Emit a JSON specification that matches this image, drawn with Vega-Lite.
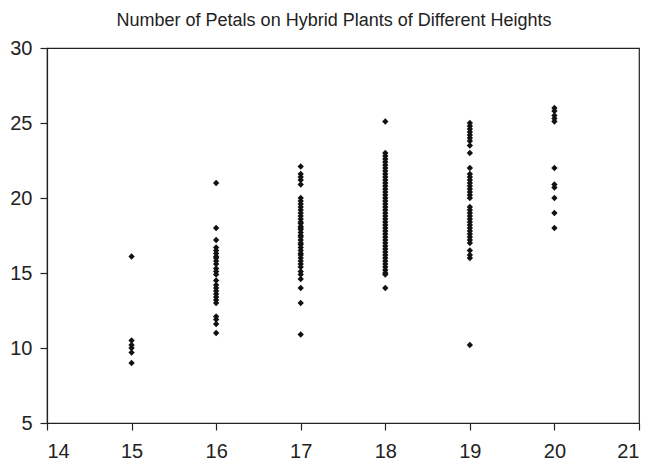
{
  "$schema": "https://vega.github.io/schema/vega-lite/v6.json",
  "autosize": {"type": "none"},
  "width": 592,
  "height": 375,
  "padding": {"left": 47, "top": 48, "right": 11, "bottom": 38},
  "background": "white",
  "config": {
    "font": "Liberation Sans",
    "view": {"stroke": "#222", "strokeWidth": 1.2},
    "axis": {
      "grid": false,
      "domainColor": "#222",
      "domainWidth": 1.2,
      "tickColor": "#222",
      "tickSize": 7,
      "tickWidth": 1.2,
      "labelColor": "#222",
      "labelFont": "Liberation Sans",
      "labelFontSize": 20,
      "title": null
    }
  },
  "title": {
    "text": "Number of Petals on Hybrid Plants of Different Heights",
    "font": "Liberation Sans",
    "fontSize": 18,
    "fontWeight": "normal",
    "color": "#222",
    "anchor": "middle",
    "dx": -9,
    "offset": 8
  },
  "data": {
    "values": [
      {"height": 15, "petals": 16.1}, {"height": 15, "petals": 10.5}, {"height": 15, "petals": 10.2}, {"height": 15, "petals": 10.0}, {"height": 15, "petals": 9.7}, {"height": 15, "petals": 9.0},
      {"height": 16, "petals": 21.0}, {"height": 16, "petals": 18.0}, {"height": 16, "petals": 17.2}, {"height": 16, "petals": 16.7}, {"height": 16, "petals": 16.5}, {"height": 16, "petals": 16.3}, {"height": 16, "petals": 16.1}, {"height": 16, "petals": 16.0}, {"height": 16, "petals": 15.8}, {"height": 16, "petals": 15.6}, {"height": 16, "petals": 15.3}, {"height": 16, "petals": 15.1}, {"height": 16, "petals": 14.9}, {"height": 16, "petals": 14.5}, {"height": 16, "petals": 14.2}, {"height": 16, "petals": 14.0}, {"height": 16, "petals": 13.8}, {"height": 16, "petals": 13.6}, {"height": 16, "petals": 13.4}, {"height": 16, "petals": 13.2}, {"height": 16, "petals": 13.0}, {"height": 16, "petals": 12.1}, {"height": 16, "petals": 11.9}, {"height": 16, "petals": 11.6}, {"height": 16, "petals": 11.0},
      {"height": 17, "petals": 22.1}, {"height": 17, "petals": 21.6}, {"height": 17, "petals": 21.4}, {"height": 17, "petals": 21.2}, {"height": 17, "petals": 20.9}, {"height": 17, "petals": 20.0}, {"height": 17, "petals": 19.8}, {"height": 17, "petals": 19.6}, {"height": 17, "petals": 19.4}, {"height": 17, "petals": 19.2}, {"height": 17, "petals": 19.0}, {"height": 17, "petals": 18.8}, {"height": 17, "petals": 18.6}, {"height": 17, "petals": 18.4}, {"height": 17, "petals": 18.3}, {"height": 17, "petals": 18.1}, {"height": 17, "petals": 18.0}, {"height": 17, "petals": 17.9}, {"height": 17, "petals": 17.7}, {"height": 17, "petals": 17.5}, {"height": 17, "petals": 17.4}, {"height": 17, "petals": 17.2}, {"height": 17, "petals": 17.0}, {"height": 17, "petals": 16.9}, {"height": 17, "petals": 16.7}, {"height": 17, "petals": 16.5}, {"height": 17, "petals": 16.3}, {"height": 17, "petals": 16.2}, {"height": 17, "petals": 16.0}, {"height": 17, "petals": 15.8}, {"height": 17, "petals": 15.6}, {"height": 17, "petals": 15.4}, {"height": 17, "petals": 15.1}, {"height": 17, "petals": 14.9}, {"height": 17, "petals": 14.6}, {"height": 17, "petals": 14.0}, {"height": 17, "petals": 13.0}, {"height": 17, "petals": 10.9},
      {"height": 18, "petals": 25.1}, {"height": 18, "petals": 23.0}, {"height": 18, "petals": 22.8}, {"height": 18, "petals": 22.6}, {"height": 18, "petals": 22.4}, {"height": 18, "petals": 22.2}, {"height": 18, "petals": 22.0}, {"height": 18, "petals": 21.8}, {"height": 18, "petals": 21.6}, {"height": 18, "petals": 21.4}, {"height": 18, "petals": 21.2}, {"height": 18, "petals": 21.0}, {"height": 18, "petals": 20.8}, {"height": 18, "petals": 20.6}, {"height": 18, "petals": 20.4}, {"height": 18, "petals": 20.2}, {"height": 18, "petals": 20.0}, {"height": 18, "petals": 19.8}, {"height": 18, "petals": 19.6}, {"height": 18, "petals": 19.4}, {"height": 18, "petals": 19.2}, {"height": 18, "petals": 19.0}, {"height": 18, "petals": 18.8}, {"height": 18, "petals": 18.6}, {"height": 18, "petals": 18.4}, {"height": 18, "petals": 18.2}, {"height": 18, "petals": 18.0}, {"height": 18, "petals": 17.8}, {"height": 18, "petals": 17.6}, {"height": 18, "petals": 17.4}, {"height": 18, "petals": 17.2}, {"height": 18, "petals": 17.0}, {"height": 18, "petals": 16.8}, {"height": 18, "petals": 16.6}, {"height": 18, "petals": 16.4}, {"height": 18, "petals": 16.2}, {"height": 18, "petals": 16.0}, {"height": 18, "petals": 15.8}, {"height": 18, "petals": 15.6}, {"height": 18, "petals": 15.4}, {"height": 18, "petals": 15.2}, {"height": 18, "petals": 15.0}, {"height": 18, "petals": 14.9}, {"height": 18, "petals": 14.0},
      {"height": 19, "petals": 25.0}, {"height": 19, "petals": 24.8}, {"height": 19, "petals": 24.6}, {"height": 19, "petals": 24.4}, {"height": 19, "petals": 24.2}, {"height": 19, "petals": 24.0}, {"height": 19, "petals": 23.8}, {"height": 19, "petals": 23.5}, {"height": 19, "petals": 23.0}, {"height": 19, "petals": 22.0}, {"height": 19, "petals": 21.6}, {"height": 19, "petals": 21.4}, {"height": 19, "petals": 21.2}, {"height": 19, "petals": 21.0}, {"height": 19, "petals": 20.8}, {"height": 19, "petals": 20.6}, {"height": 19, "petals": 20.4}, {"height": 19, "petals": 20.2}, {"height": 19, "petals": 20.0}, {"height": 19, "petals": 19.4}, {"height": 19, "petals": 19.2}, {"height": 19, "petals": 19.0}, {"height": 19, "petals": 18.8}, {"height": 19, "petals": 18.6}, {"height": 19, "petals": 18.4}, {"height": 19, "petals": 18.2}, {"height": 19, "petals": 18.0}, {"height": 19, "petals": 17.8}, {"height": 19, "petals": 17.6}, {"height": 19, "petals": 17.4}, {"height": 19, "petals": 17.2}, {"height": 19, "petals": 17.0}, {"height": 19, "petals": 16.5}, {"height": 19, "petals": 16.2}, {"height": 19, "petals": 16.0}, {"height": 19, "petals": 10.2},
      {"height": 20, "petals": 26.0}, {"height": 20, "petals": 25.8}, {"height": 20, "petals": 25.5}, {"height": 20, "petals": 25.3}, {"height": 20, "petals": 25.1}, {"height": 20, "petals": 22.0}, {"height": 20, "petals": 20.9}, {"height": 20, "petals": 20.7}, {"height": 20, "petals": 20.0}, {"height": 20, "petals": 19.0}, {"height": 20, "petals": 18.0}
    ]
  },
  "mark": {"type": "point", "shape": "diamond", "filled": true, "color": "#111", "size": 40, "opacity": 1},
  "encoding": {
    "x": {"field": "height", "type": "quantitative", "scale": {"domain": [14, 21], "nice": false, "zero": false}, "axis": {"values": [14, 15, 16, 17, 18, 19, 20, 21], "labelPadding": 11}},
    "y": {"field": "petals", "type": "quantitative", "scale": {"domain": [5, 30], "nice": false, "zero": false}, "axis": {"values": [5, 10, 15, 20, 25, 30], "labelPadding": 8}}
  }
}
